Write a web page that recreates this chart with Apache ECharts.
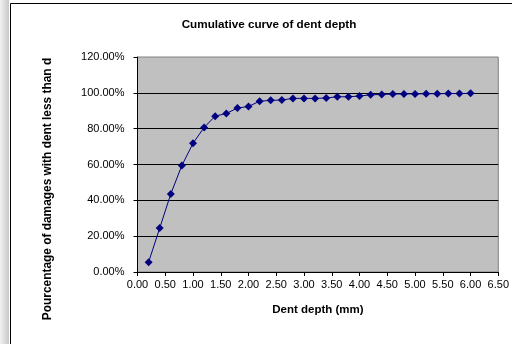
<!DOCTYPE html>
<html><head><meta charset="utf-8">
<script src="https://cdn.jsdelivr.net/npm/echarts@6/dist/echarts.min.js"></script>
<style>html,body{margin:0;padding:0;background:#fff}#c{width:512px;height:344px}</style>
</head><body><div id="c"></div>
<script>
const depths = [0.2,0.4,0.6,0.8,1.0,1.2,1.4,1.6,1.8,2.0,2.2,2.4,2.6,2.8,3.0,3.2,3.4,3.6,3.8,4.0,4.2,4.4,4.6,4.8,5.0,5.2,5.4,5.6,5.8,6.0];
const cumPct = [5.5,24.5,43.6,59.5,71.8,80.7,87.0,88.5,91.5,92.4,95.3,95.8,96.0,96.9,96.9,96.9,97.1,97.8,97.8,98.2,98.9,99.1,99.3,99.4,99.4,99.5,99.5,99.6,99.6,99.7];
const titleText = 'Cumulative curve of dent depth';
const xName = 'Dent depth (mm)';
const yName = 'Pourcentage of damages with dent less than d';

const font = '"Liberation Sans", Arial, sans-serif';
const chart = echarts.init(document.getElementById('c'), null, {renderer:'canvas'});
chart.setOption({
  animation: false,
  backgroundColor: '#fff',
  title: {text: titleText, left: 264, top: 14, textAlign: 'center',
    textStyle: {fontFamily: font, fontSize: 11.7, fontWeight: 'bold', color: '#000'}},
  graphic: [
    {type:'rect', shape:{x:0,y:0,width:9,height:344}, style:{fill:new echarts.graphic.LinearGradient(0,0,1,0,[{offset:0,color:'#f2f2f2'},{offset:1,color:'#c8c8c8'}])}, silent:true},
    {type:'rect', shape:{x:10.5,y:3.5,width:520,height:360}, style:{fill:'none', stroke:'#000', lineWidth:1}, silent:true},
    {type:'text', x:48, y:189, rotation: Math.PI/2, style:{text: yName, font: 'bold 11.9px ' + font, fill:'#000', align:'center', verticalAlign:'middle'}, silent:true}
  ],
  grid: {left: 137.5, right: 12, top: 57, bottom: 72, show: true, backgroundColor: '#c0c0c0', borderColor: '#808080', borderWidth: 1},
  xAxis: {type: 'value', min: 0, max: 6.5, interval: 0.5,
    name: xName, nameLocation: 'middle', nameGap: 32,
    nameTextStyle: {fontFamily: font, fontSize: 11.5, fontWeight: 'bold', color: '#000'},
    axisLine: {show: true, lineStyle: {color: '#000', width: 1}},
    axisTick: {show: true, length: 4, lineStyle: {color: '#000'}},
    axisLabel: {fontFamily: font, fontSize: 11, color: '#000', margin: 7, formatter: v => v.toFixed(2)},
    splitLine: {show: false}},
  yAxis: {type: 'value', min: 0, max: 1.2, interval: 0.2,
    axisLine: {show: true, lineStyle: {color: '#000', width: 1}},
    axisTick: {show: true, length: 4, lineStyle: {color: '#000'}},
    axisLabel: {fontFamily: font, fontSize: 11, color: '#000', margin: 13, formatter: v => (v*100).toFixed(2) + '%'},
    splitLine: {show: true, showMaxLine: false, showMinLine: false, lineStyle: {color: '#000', width: 1}}},
  series: [{type: 'line', data: depths.map((d,i) => [d, cumPct[i]/100]),
    symbol: 'diamond', symbolSize: 8,
    lineStyle: {color: '#000080', width: 1},
    itemStyle: {color: '#000080'}}]
});
</script></body></html>
